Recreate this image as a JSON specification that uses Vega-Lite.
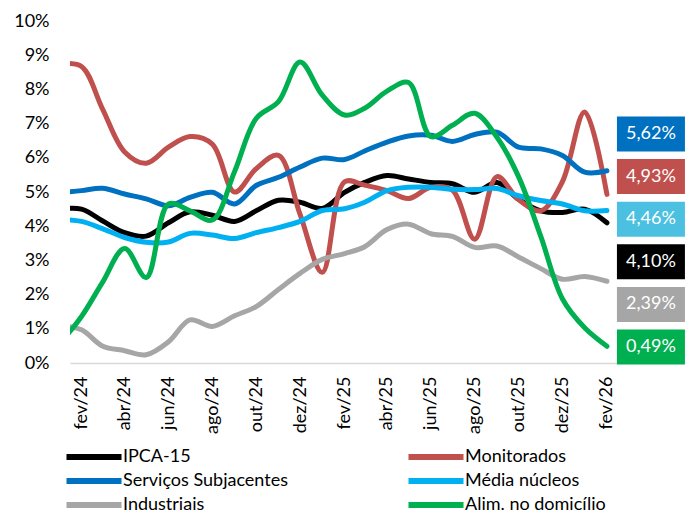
{
  "$schema": "https://vega.github.io/schema/vega-lite/v6.json",
  "autosize": {"type": "none"},
  "width": 547,
  "height": 342,
  "padding": {"left": 70, "top": 21, "right": 68, "bottom": 150},
  "background": "white",
  "config": {
    "view": {"stroke": null},
    "font": "Lato",
    "locale": {
      "number": {"decimal": ",", "thousands": ".", "grouping": [3], "currency": ["R$", ""]}
    }
  },
  "data": {"values": [
    {"mes":"2024-01-01","serie":"IPCA-15","valor":0.0450},
    {"mes":"2024-02-01","serie":"IPCA-15","valor":0.0450},
    {"mes":"2024-03-01","serie":"IPCA-15","valor":0.0416},
    {"mes":"2024-04-01","serie":"IPCA-15","valor":0.0381},
    {"mes":"2024-05-01","serie":"IPCA-15","valor":0.0371},
    {"mes":"2024-06-01","serie":"IPCA-15","valor":0.0410},
    {"mes":"2024-07-01","serie":"IPCA-15","valor":0.0442},
    {"mes":"2024-08-01","serie":"IPCA-15","valor":0.0432},
    {"mes":"2024-09-01","serie":"IPCA-15","valor":0.0414},
    {"mes":"2024-10-01","serie":"IPCA-15","valor":0.0445},
    {"mes":"2024-11-01","serie":"IPCA-15","valor":0.0476},
    {"mes":"2024-12-01","serie":"IPCA-15","valor":0.0470},
    {"mes":"2025-01-01","serie":"IPCA-15","valor":0.0452},
    {"mes":"2025-02-01","serie":"IPCA-15","valor":0.0499},
    {"mes":"2025-03-01","serie":"IPCA-15","valor":0.0528},
    {"mes":"2025-04-01","serie":"IPCA-15","valor":0.0548},
    {"mes":"2025-05-01","serie":"IPCA-15","valor":0.0538},
    {"mes":"2025-06-01","serie":"IPCA-15","valor":0.0528},
    {"mes":"2025-07-01","serie":"IPCA-15","valor":0.0524},
    {"mes":"2025-08-01","serie":"IPCA-15","valor":0.0499},
    {"mes":"2025-09-01","serie":"IPCA-15","valor":0.0528},
    {"mes":"2025-10-01","serie":"IPCA-15","valor":0.0479},
    {"mes":"2025-11-01","serie":"IPCA-15","valor":0.0445},
    {"mes":"2025-12-01","serie":"IPCA-15","valor":0.0440},
    {"mes":"2026-01-01","serie":"IPCA-15","valor":0.0450},
    {"mes":"2026-02-01","serie":"IPCA-15","valor":0.0410},

    {"mes":"2024-01-01","serie":"Monitorados","valor":0.0875},
    {"mes":"2024-02-01","serie":"Monitorados","valor":0.0867},
    {"mes":"2024-03-01","serie":"Monitorados","valor":0.0744},
    {"mes":"2024-04-01","serie":"Monitorados","valor":0.0617},
    {"mes":"2024-05-01","serie":"Monitorados","valor":0.0584},
    {"mes":"2024-06-01","serie":"Monitorados","valor":0.0631},
    {"mes":"2024-07-01","serie":"Monitorados","valor":0.0662},
    {"mes":"2024-08-01","serie":"Monitorados","valor":0.0640},
    {"mes":"2024-09-01","serie":"Monitorados","valor":0.0500},
    {"mes":"2024-10-01","serie":"Monitorados","valor":0.0568},
    {"mes":"2024-11-01","serie":"Monitorados","valor":0.0607},
    {"mes":"2024-12-01","serie":"Monitorados","valor":0.0435},
    {"mes":"2025-01-01","serie":"Monitorados","valor":0.0265},
    {"mes":"2025-02-01","serie":"Monitorados","valor":0.0530},
    {"mes":"2025-03-01","serie":"Monitorados","valor":0.0520},
    {"mes":"2025-04-01","serie":"Monitorados","valor":0.0504},
    {"mes":"2025-05-01","serie":"Monitorados","valor":0.0481},
    {"mes":"2025-06-01","serie":"Monitorados","valor":0.0514},
    {"mes":"2025-07-01","serie":"Monitorados","valor":0.0505},
    {"mes":"2025-08-01","serie":"Monitorados","valor":0.0362},
    {"mes":"2025-09-01","serie":"Monitorados","valor":0.0545},
    {"mes":"2025-10-01","serie":"Monitorados","valor":0.0478},
    {"mes":"2025-11-01","serie":"Monitorados","valor":0.0445},
    {"mes":"2025-12-01","serie":"Monitorados","valor":0.0530},
    {"mes":"2026-01-01","serie":"Monitorados","valor":0.0734},
    {"mes":"2026-02-01","serie":"Monitorados","valor":0.0493},

    {"mes":"2024-01-01","serie":"Serviços Subjacentes","valor":0.0498},
    {"mes":"2024-02-01","serie":"Serviços Subjacentes","valor":0.0504},
    {"mes":"2024-03-01","serie":"Serviços Subjacentes","valor":0.0511},
    {"mes":"2024-04-01","serie":"Serviços Subjacentes","valor":0.0494},
    {"mes":"2024-05-01","serie":"Serviços Subjacentes","valor":0.0480},
    {"mes":"2024-06-01","serie":"Serviços Subjacentes","valor":0.0460},
    {"mes":"2024-07-01","serie":"Serviços Subjacentes","valor":0.0484},
    {"mes":"2024-08-01","serie":"Serviços Subjacentes","valor":0.0499},
    {"mes":"2024-09-01","serie":"Serviços Subjacentes","valor":0.0465},
    {"mes":"2024-10-01","serie":"Serviços Subjacentes","valor":0.0519},
    {"mes":"2024-11-01","serie":"Serviços Subjacentes","valor":0.0543},
    {"mes":"2024-12-01","serie":"Serviços Subjacentes","valor":0.0573},
    {"mes":"2025-01-01","serie":"Serviços Subjacentes","valor":0.0599},
    {"mes":"2025-02-01","serie":"Serviços Subjacentes","valor":0.0595},
    {"mes":"2025-03-01","serie":"Serviços Subjacentes","valor":0.0620},
    {"mes":"2025-04-01","serie":"Serviços Subjacentes","valor":0.0646},
    {"mes":"2025-05-01","serie":"Serviços Subjacentes","valor":0.0664},
    {"mes":"2025-06-01","serie":"Serviços Subjacentes","valor":0.0666},
    {"mes":"2025-07-01","serie":"Serviços Subjacentes","valor":0.0648},
    {"mes":"2025-08-01","serie":"Serviços Subjacentes","valor":0.0668},
    {"mes":"2025-09-01","serie":"Serviços Subjacentes","valor":0.0675},
    {"mes":"2025-10-01","serie":"Serviços Subjacentes","valor":0.0631},
    {"mes":"2025-11-01","serie":"Serviços Subjacentes","valor":0.0626},
    {"mes":"2025-12-01","serie":"Serviços Subjacentes","valor":0.0607},
    {"mes":"2026-01-01","serie":"Serviços Subjacentes","valor":0.0558},
    {"mes":"2026-02-01","serie":"Serviços Subjacentes","valor":0.0562},

    {"mes":"2024-01-01","serie":"Média núcleos","valor":0.0420},
    {"mes":"2024-02-01","serie":"Média núcleos","valor":0.0414},
    {"mes":"2024-03-01","serie":"Média núcleos","valor":0.0393},
    {"mes":"2024-04-01","serie":"Média núcleos","valor":0.0367},
    {"mes":"2024-05-01","serie":"Média núcleos","valor":0.0353},
    {"mes":"2024-06-01","serie":"Média núcleos","valor":0.0354},
    {"mes":"2024-07-01","serie":"Média núcleos","valor":0.0379},
    {"mes":"2024-08-01","serie":"Média núcleos","valor":0.0374},
    {"mes":"2024-09-01","serie":"Média núcleos","valor":0.0364},
    {"mes":"2024-10-01","serie":"Média núcleos","valor":0.0381},
    {"mes":"2024-11-01","serie":"Média núcleos","valor":0.0396},
    {"mes":"2024-12-01","serie":"Média núcleos","valor":0.0414},
    {"mes":"2025-01-01","serie":"Média núcleos","valor":0.0446},
    {"mes":"2025-02-01","serie":"Média núcleos","valor":0.0451},
    {"mes":"2025-03-01","serie":"Média núcleos","valor":0.0470},
    {"mes":"2025-04-01","serie":"Média núcleos","valor":0.0504},
    {"mes":"2025-05-01","serie":"Média núcleos","valor":0.0514},
    {"mes":"2025-06-01","serie":"Média núcleos","valor":0.0514},
    {"mes":"2025-07-01","serie":"Média núcleos","valor":0.0508},
    {"mes":"2025-08-01","serie":"Média núcleos","valor":0.0507},
    {"mes":"2025-09-01","serie":"Média núcleos","valor":0.0510},
    {"mes":"2025-10-01","serie":"Média núcleos","valor":0.0489},
    {"mes":"2025-11-01","serie":"Média núcleos","valor":0.0475},
    {"mes":"2025-12-01","serie":"Média núcleos","valor":0.0465},
    {"mes":"2026-01-01","serie":"Média núcleos","valor":0.0445},
    {"mes":"2026-02-01","serie":"Média núcleos","valor":0.0446},

    {"mes":"2024-01-01","serie":"Industriais","valor":0.0110},
    {"mes":"2024-02-01","serie":"Industriais","valor":0.0097},
    {"mes":"2024-03-01","serie":"Industriais","valor":0.0050},
    {"mes":"2024-04-01","serie":"Industriais","valor":0.0036},
    {"mes":"2024-05-01","serie":"Industriais","valor":0.0024},
    {"mes":"2024-06-01","serie":"Industriais","valor":0.0062},
    {"mes":"2024-07-01","serie":"Industriais","valor":0.0126},
    {"mes":"2024-08-01","serie":"Industriais","valor":0.0107},
    {"mes":"2024-09-01","serie":"Industriais","valor":0.0138},
    {"mes":"2024-10-01","serie":"Industriais","valor":0.0165},
    {"mes":"2024-11-01","serie":"Industriais","valor":0.0215},
    {"mes":"2024-12-01","serie":"Industriais","valor":0.0262},
    {"mes":"2025-01-01","serie":"Industriais","valor":0.0303},
    {"mes":"2025-02-01","serie":"Industriais","valor":0.0320},
    {"mes":"2025-03-01","serie":"Industriais","valor":0.0340},
    {"mes":"2025-04-01","serie":"Industriais","valor":0.0390},
    {"mes":"2025-05-01","serie":"Industriais","valor":0.0406},
    {"mes":"2025-06-01","serie":"Industriais","valor":0.0378},
    {"mes":"2025-07-01","serie":"Industriais","valor":0.0370},
    {"mes":"2025-08-01","serie":"Industriais","valor":0.0338},
    {"mes":"2025-09-01","serie":"Industriais","valor":0.0342},
    {"mes":"2025-10-01","serie":"Industriais","valor":0.0310},
    {"mes":"2025-11-01","serie":"Industriais","valor":0.0276},
    {"mes":"2025-12-01","serie":"Industriais","valor":0.0245},
    {"mes":"2026-01-01","serie":"Industriais","valor":0.0253},
    {"mes":"2026-02-01","serie":"Industriais","valor":0.0239},

    {"mes":"2024-01-01","serie":"Alim. no domicílio","valor":0.0055},
    {"mes":"2024-02-01","serie":"Alim. no domicílio","valor":0.0136},
    {"mes":"2024-03-01","serie":"Alim. no domicílio","valor":0.0235},
    {"mes":"2024-04-01","serie":"Alim. no domicílio","valor":0.0335},
    {"mes":"2024-05-01","serie":"Alim. no domicílio","valor":0.0250},
    {"mes":"2024-06-01","serie":"Alim. no domicílio","valor":0.0465},
    {"mes":"2024-07-01","serie":"Alim. no domicílio","valor":0.0445},
    {"mes":"2024-08-01","serie":"Alim. no domicílio","valor":0.0418},
    {"mes":"2024-09-01","serie":"Alim. no domicílio","valor":0.0560},
    {"mes":"2024-10-01","serie":"Alim. no domicílio","valor":0.0715},
    {"mes":"2024-11-01","serie":"Alim. no domicílio","valor":0.0764},
    {"mes":"2024-12-01","serie":"Alim. no domicílio","valor":0.0880},
    {"mes":"2025-01-01","serie":"Alim. no domicílio","valor":0.0783},
    {"mes":"2025-02-01","serie":"Alim. no domicílio","valor":0.0725},
    {"mes":"2025-03-01","serie":"Alim. no domicílio","valor":0.0745},
    {"mes":"2025-04-01","serie":"Alim. no domicílio","valor":0.0795},
    {"mes":"2025-05-01","serie":"Alim. no domicílio","valor":0.0820},
    {"mes":"2025-06-01","serie":"Alim. no domicílio","valor":0.0662},
    {"mes":"2025-07-01","serie":"Alim. no domicílio","valor":0.0695},
    {"mes":"2025-08-01","serie":"Alim. no domicílio","valor":0.0730},
    {"mes":"2025-09-01","serie":"Alim. no domicílio","valor":0.0660},
    {"mes":"2025-10-01","serie":"Alim. no domicílio","valor":0.0545},
    {"mes":"2025-11-01","serie":"Alim. no domicílio","valor":0.0370},
    {"mes":"2025-12-01","serie":"Alim. no domicílio","valor":0.0188},
    {"mes":"2026-01-01","serie":"Alim. no domicílio","valor":0.0103},
    {"mes":"2026-02-01","serie":"Alim. no domicílio","valor":0.0049}
  ]},
  "layer": [
    {
      "mark": {"type": "line", "interpolate": "catmull-rom", "strokeWidth": 5, "clip": true, "strokeCap": "round"},
      "encoding": {
        "x": {
          "field": "mes", "type": "temporal",
          "scale": {"type": "utc", "nice": false, "domain": [{"year": 2024, "month": 1, "date": 16, "utc": true}, {"year": 2026, "month": 2, "date": 15, "utc": true}]},
          "axis": {
            "title": null, "grid": false, "ticks": false,
            "domainColor": "#d9d9d9", "domainWidth": 1.5,
            "labelAngle": 270, "labelPadding": 13, "labelFont": "Lato", "labelFontSize": 18, "labelColor": "#000000",
            "labelOverlap": false, "labelBound": false, "labelFlush": false,
            "values": [
              {"year": 2024, "month": 2, "date": 1, "utc": true},
              {"year": 2024, "month": 4, "date": 1, "utc": true},
              {"year": 2024, "month": 6, "date": 1, "utc": true},
              {"year": 2024, "month": 8, "date": 1, "utc": true},
              {"year": 2024, "month": 10, "date": 1, "utc": true},
              {"year": 2024, "month": 12, "date": 1, "utc": true},
              {"year": 2025, "month": 2, "date": 1, "utc": true},
              {"year": 2025, "month": 4, "date": 1, "utc": true},
              {"year": 2025, "month": 6, "date": 1, "utc": true},
              {"year": 2025, "month": 8, "date": 1, "utc": true},
              {"year": 2025, "month": 10, "date": 1, "utc": true},
              {"year": 2025, "month": 12, "date": 1, "utc": true},
              {"year": 2026, "month": 2, "date": 1, "utc": true}
            ],
            "labelExpr": "['jan','fev','mar','abr','mai','jun','jul','ago','set','out','nov','dez'][utcmonth(datum.value)] + '/' + utcFormat(datum.value, '%y')"
          }
        },
        "y": {
          "field": "valor", "type": "quantitative",
          "scale": {"domain": [0, 0.1], "nice": false, "zero": true},
          "axis": {
            "title": null, "grid": false, "ticks": false, "domain": false,
            "values": [0, 0.01, 0.02, 0.03, 0.04, 0.05, 0.06, 0.07, 0.08, 0.09, 0.1],
            "format": ".0%", "labelPadding": 21, "labelFont": "Lato", "labelFontSize": 18, "labelColor": "#000000"
          }
        },
        "stroke": {
          "field": "serie", "type": "nominal",
          "scale": {
            "domain": ["IPCA-15", "Monitorados", "Serviços Subjacentes", "Média núcleos", "Industriais", "Alim. no domicílio"],
            "range": ["#000000", "#C0504D", "#0070C0", "#00B0F0", "#A6A6A6", "#00B050"]
          },
          "legend": {
            "title": null, "orient": "none", "legendX": 15, "legendY": 427, "columns": 2, "columnPadding": 108,
            "direction": "horizontal",
            "rowPadding": 0, "padding": 0, "symbolType": "M-5,0H5", "symbolStrokeWidth": 6, "symbolSize": 121,
            "labelFont": "Lato", "labelFontSize": 18, "labelColor": "#000000", "labelOffset": 20, "labelLimit": 300
          }
        }
      }
    },
    {
      "transform": [{"filter": {"field": "mes", "timeUnit": "utcyearmonth", "equal": {"year": 2026, "month": 2, "utc": true}}}],
      "encoding": {
        "x": {"field": "mes", "type": "temporal"},
        "y": {
          "field": "serie", "type": "nominal",
          "sort": {"field": "valor", "op": "max", "order": "descending"},
          "scale": {"type": "point", "range": [113, 326], "padding": 0},
          "axis": null
        }
      },
      "layer": [
        {
          "mark": {"type": "rect", "width": 68, "height": 35, "xOffset": 44},
          "encoding": {
            "fill": {
              "field": "serie", "type": "nominal",
              "scale": {
                "domain": ["IPCA-15", "Monitorados", "Serviços Subjacentes", "Média núcleos", "Industriais", "Alim. no domicílio"],
                "range": ["#000000", "#C0504D", "#0070C0", "#4BC0E0", "#A6A6A6", "#00B050"]
              },
              "legend": null
            }
          }
        },
        {
          "mark": {"type": "text", "font": "Lato", "fontSize": 18, "fill": "white", "align": "center", "baseline": "middle", "xOffset": 44},
          "encoding": {
            "text": {"field": "valor", "type": "quantitative", "format": ".2%"}
          }
        }
      ]
    }
  ],
  "resolve": {"scale": {"y": "independent"}}
}
